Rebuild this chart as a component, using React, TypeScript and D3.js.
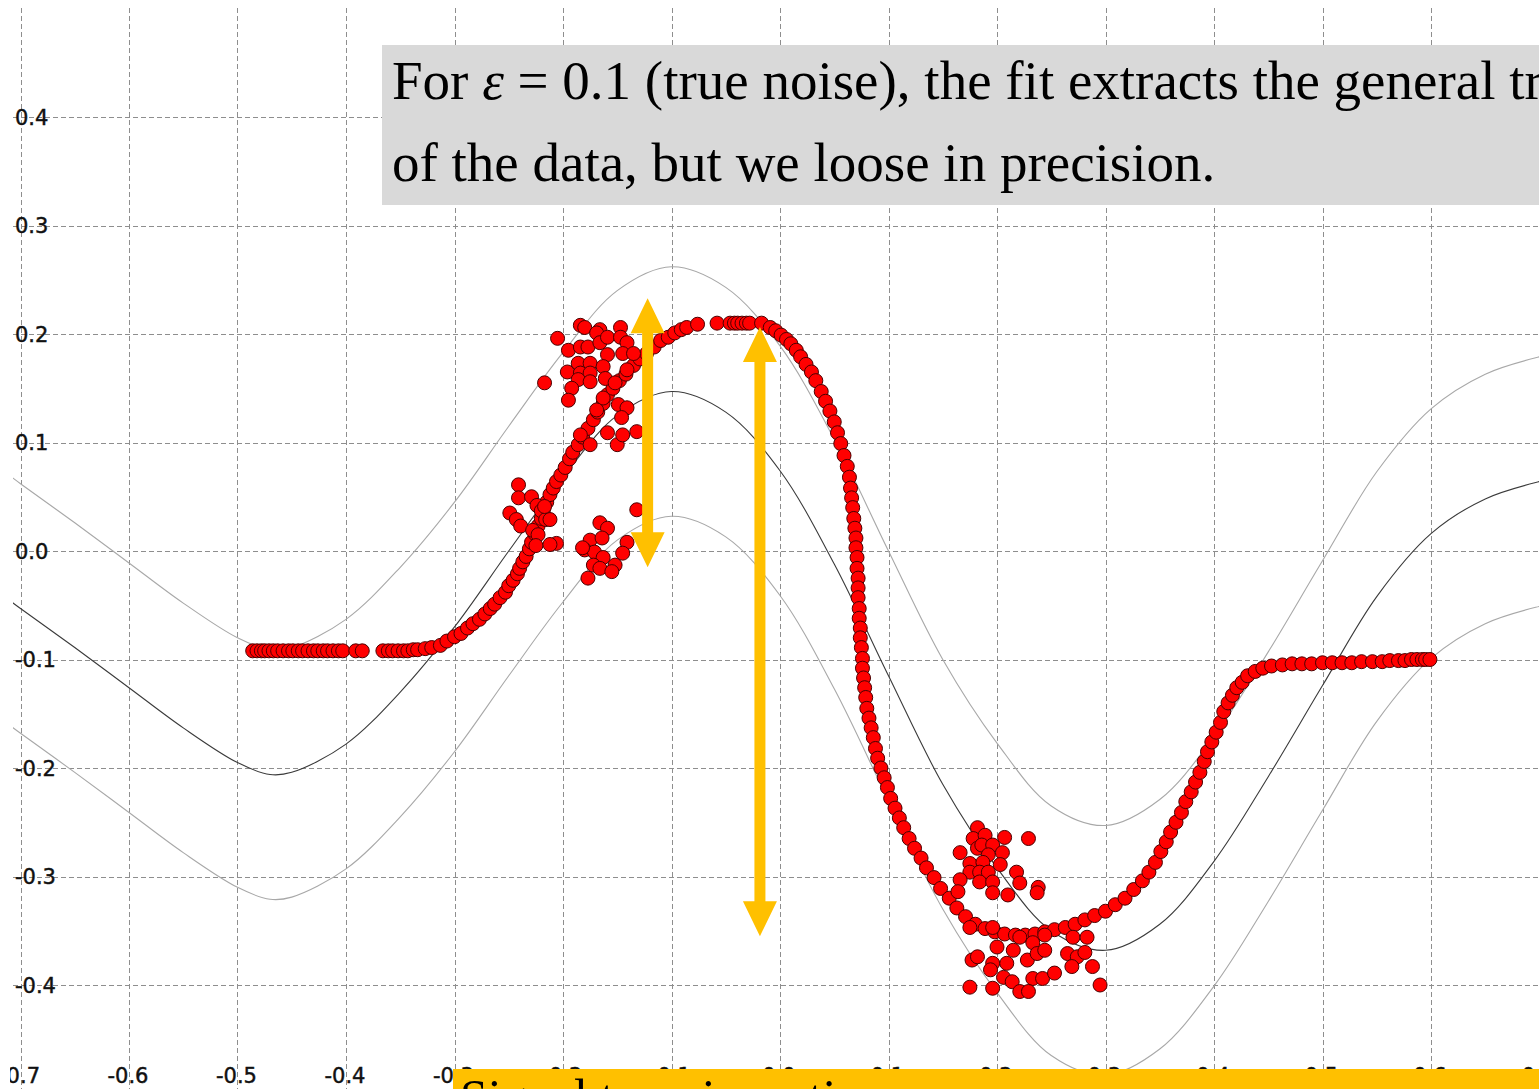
import React from "react";
import * as d3 from "d3";

const W = 1539;
const H = 1089;

// Axis ticks
const xTicks = [-0.7, -0.6, -0.5, -0.4, -0.3, -0.2, -0.1, 0.0, 0.1, 0.2, 0.3, 0.4, 0.5, 0.6, 0.7];
const yTicks = [0.4, 0.3, 0.2, 0.1, 0.0, -0.1, -0.2, -0.3, -0.4];

// Fitted curve (mean) and its +/- band, sampled along x
const fitX = [-0.72, -0.7, -0.65, -0.6, -0.55, -0.5, -0.47, -0.45, -0.4, -0.35, -0.3, -0.25, -0.2, -0.15, -0.1, -0.05, 0.0, 0.05, 0.1, 0.15, 0.2, 0.25, 0.3, 0.35, 0.4, 0.45, 0.5, 0.55, 0.6, 0.65, 0.7, 0.72];
const fitMean = [-0.038, -0.053, -0.089, -0.126, -0.163, -0.195, -0.206, -0.204, -0.178, -0.13, -0.07, 0.0, 0.068, 0.125, 0.147, 0.128, 0.074, -0.012, -0.115, -0.215, -0.292, -0.35, -0.368, -0.344, -0.286, -0.208, -0.124, -0.042, 0.016, 0.048, 0.064, 0.068];
const fitUpper = [0.077, 0.062, 0.026, -0.011, -0.048, -0.08, -0.091, -0.089, -0.063, -0.015, 0.045, 0.115, 0.183, 0.24, 0.262, 0.243, 0.189, 0.103, 0.0, -0.1, -0.177, -0.235, -0.253, -0.229, -0.171, -0.093, -0.009, 0.073, 0.131, 0.163, 0.179, 0.183];
const fitLower = [-0.153, -0.168, -0.204, -0.241, -0.278, -0.31, -0.321, -0.319, -0.293, -0.245, -0.185, -0.115, -0.047, 0.01, 0.032, 0.013, -0.041, -0.127, -0.23, -0.33, -0.407, -0.465, -0.483, -0.459, -0.401, -0.323, -0.239, -0.157, -0.099, -0.067, -0.051, -0.047];

// Measured signal: points lying on the underlying trend
const trendPoints: [number, number][] = [
  [-0.486, -0.092], [-0.482, -0.092], [-0.478, -0.092], [-0.475, -0.092], [-0.471, -0.092], [-0.467, -0.092],
  [-0.463, -0.092], [-0.458, -0.092], [-0.453, -0.092], [-0.449, -0.092], [-0.444, -0.092], [-0.44, -0.092],
  [-0.435, -0.092], [-0.43, -0.092], [-0.426, -0.092], [-0.421, -0.092], [-0.417, -0.092], [-0.412, -0.092],
  [-0.407, -0.092], [-0.403, -0.092], [-0.391, -0.092], [-0.385, -0.092], [-0.366, -0.092], [-0.361, -0.092],
  [-0.357, -0.092], [-0.352, -0.092], [-0.347, -0.092], [-0.343, -0.092], [-0.338, -0.091], [-0.334, -0.091],
  [-0.327, -0.09],
  [-0.321, -0.089], [-0.313, -0.087], [-0.307, -0.083], [-0.3, -0.079], [-0.294, -0.076], [-0.288, -0.071],
  [-0.283, -0.067], [-0.277, -0.063], [-0.272, -0.058], [-0.267, -0.053], [-0.263, -0.049], [-0.258, -0.043],
  [-0.253, -0.038], [-0.25, -0.032], [-0.246, -0.027], [-0.242, -0.021], [-0.24, -0.016], [-0.237, -0.01],
  [-0.234, -0.005], [-0.231, 0.002], [-0.229, 0.008], [-0.226, 0.016], [-0.223, 0.023], [-0.22, 0.03],
  [-0.218, 0.038], [-0.215, 0.045], [-0.212, 0.052], [-0.209, 0.058], [-0.206, 0.064], [-0.202, 0.07],
  [-0.198, 0.077], [-0.194, 0.085], [-0.191, 0.091], [-0.186, 0.098], [-0.182, 0.105], [-0.177, 0.113],
  [-0.172, 0.121], [-0.168, 0.128], [-0.163, 0.136], [-0.159, 0.144], [-0.154, 0.15], [-0.148, 0.157],
  [-0.142, 0.163], [-0.135, 0.171], [-0.129, 0.177], [-0.123, 0.182], [-0.116, 0.188], [-0.11, 0.194],
  [-0.103, 0.197], [-0.097, 0.201], [-0.091, 0.204], [-0.086, 0.206], [-0.076, 0.209], [-0.058, 0.21],
  [-0.046, 0.21], [-0.042, 0.21], [-0.039, 0.21], [-0.035, 0.21], [-0.031, 0.21], [-0.028, 0.21],
  [-0.017, 0.21],
  [-0.009, 0.206], [-0.004, 0.203], [0.001, 0.199], [0.006, 0.195], [0.01, 0.191], [0.015, 0.185],
  [0.019, 0.179], [0.024, 0.172], [0.029, 0.165], [0.033, 0.157], [0.038, 0.147], [0.042, 0.138],
  [0.046, 0.129], [0.05, 0.119], [0.053, 0.109], [0.056, 0.099], [0.059, 0.088], [0.062, 0.078],
  [0.064, 0.068], [0.065, 0.058], [0.066, 0.049], [0.067, 0.04], [0.068, 0.03], [0.069, 0.021],
  [0.07, 0.012], [0.07, 0.003], [0.071, -0.006], [0.071, -0.016], [0.072, -0.025], [0.072, -0.034],
  [0.072, -0.043], [0.073, -0.053], [0.073, -0.062], [0.074, -0.071], [0.074, -0.08], [0.075, -0.089],
  [0.076, -0.099], [0.076, -0.108], [0.077, -0.117], [0.078, -0.126], [0.079, -0.135], [0.08, -0.145],
  [0.082, -0.154], [0.084, -0.163], [0.086, -0.172], [0.088, -0.182], [0.09, -0.191], [0.093, -0.2],
  [0.096, -0.209], [0.099, -0.218], [0.102, -0.228], [0.106, -0.237], [0.11, -0.246], [0.114, -0.255],
  [0.119, -0.265], [0.124, -0.274], [0.13, -0.283], [0.135, -0.292], [0.142, -0.301], [0.148, -0.311],
  [0.156, -0.32], [0.163, -0.329], [0.171, -0.337], [0.18, -0.344], [0.189, -0.348], [0.198, -0.351],
  [0.207, -0.353], [0.217, -0.354], [0.226, -0.354], [0.235, -0.353], [0.244, -0.351], [0.253, -0.349],
  [0.263, -0.347], [0.272, -0.344], [0.281, -0.34], [0.29, -0.336], [0.3, -0.332], [0.309, -0.326],
  [0.318, -0.32], [0.326, -0.312], [0.334, -0.304], [0.34, -0.296], [0.346, -0.287], [0.351, -0.277],
  [0.356, -0.268], [0.36, -0.259], [0.365, -0.25], [0.37, -0.241], [0.374, -0.231], [0.379, -0.222],
  [0.383, -0.213], [0.387, -0.204], [0.391, -0.194], [0.394, -0.185], [0.398, -0.176], [0.402, -0.167],
  [0.406, -0.158], [0.409, -0.148], [0.413, -0.14], [0.417, -0.133], [0.421, -0.126], [0.426, -0.121],
  [0.431, -0.115], [0.438, -0.111], [0.445, -0.108], [0.453, -0.106], [0.463, -0.105], [0.472, -0.104],
  [0.481, -0.104], [0.49, -0.104], [0.5, -0.103], [0.509, -0.103], [0.518, -0.103], [0.527, -0.103],
  [0.536, -0.102], [0.546, -0.102], [0.555, -0.102], [0.562, -0.101], [0.57, -0.101], [0.576, -0.101],
  [0.582, -0.1], [0.587, -0.1], [0.592, -0.1], [0.595, -0.1], [0.599, -0.1],
];

// Measured signal: noisy bursts scattered away from the trend
const noisePoints: [number, number][] = [
  // around x = -0.17, upper burst
  [-0.205, 0.196], [-0.184, 0.208], [-0.18, 0.206], [-0.166, 0.204], [-0.147, 0.206], [-0.169, 0.201],
  [-0.195, 0.185], [-0.184, 0.188], [-0.177, 0.188], [-0.166, 0.192], [-0.159, 0.197], [-0.147, 0.197],
  [-0.141, 0.192], [-0.186, 0.173], [-0.175, 0.173], [-0.159, 0.181], [-0.145, 0.182], [-0.135, 0.182],
  [-0.196, 0.165], [-0.184, 0.164], [-0.175, 0.164], [-0.163, 0.17], [-0.141, 0.167], [-0.217, 0.155],
  [-0.186, 0.158], [-0.175, 0.156], [-0.161, 0.159], [-0.192, 0.15], [-0.152, 0.155], [-0.195, 0.139],
  [-0.163, 0.141], [-0.149, 0.135], [-0.141, 0.132], [-0.169, 0.13], [-0.159, 0.109], [-0.146, 0.123],
  [-0.15, 0.098], [-0.145, 0.107], [-0.132, 0.11], [-0.175, 0.098], [-0.184, 0.107],
  // around x = -0.17, lower burst
  [-0.166, 0.026], [-0.159, 0.021], [-0.132, 0.038], [-0.175, 0.01], [-0.164, 0.012], [-0.141, 0.008],
  [-0.206, 0.007], [-0.18, 0.001], [-0.171, -0.001], [-0.163, -0.006], [-0.145, -0.002], [-0.172, -0.013],
  [-0.166, -0.016], [-0.152, -0.013], [-0.155, -0.019], [-0.177, -0.025], [-0.182, 0.003],
  // around x = -0.23
  [-0.241, 0.061], [-0.241, 0.049], [-0.249, 0.035], [-0.243, 0.029], [-0.239, 0.023], [-0.229, 0.05],
  [-0.224, 0.042], [-0.22, 0.037], [-0.216, 0.029], [-0.212, 0.029], [-0.228, 0.019], [-0.223, 0.015],
  [-0.225, 0.005], [-0.212, 0.006], [-0.217, 0.041],
  // around x = 0.2, upper burst
  [0.182, -0.255], [0.207, -0.264], [0.229, -0.265], [0.178, -0.265], [0.189, -0.262], [0.166, -0.278],
  [0.182, -0.274], [0.186, -0.271], [0.196, -0.271], [0.205, -0.278], [0.192, -0.28], [0.175, -0.288],
  [0.187, -0.287], [0.203, -0.289], [0.175, -0.296], [0.184, -0.296], [0.192, -0.296], [0.218, -0.296],
  [0.166, -0.303], [0.184, -0.305], [0.196, -0.305], [0.221, -0.306], [0.238, -0.31], [0.164, -0.314],
  [0.196, -0.315], [0.21, -0.317], [0.237, -0.315],
  // around x = 0.23, lower burst
  [0.175, -0.347], [0.196, -0.347], [0.2, -0.365], [0.215, -0.368], [0.221, -0.356], [0.233, -0.361],
  [0.244, -0.354], [0.27, -0.356], [0.283, -0.356], [0.177, -0.377], [0.182, -0.374], [0.196, -0.38],
  [0.209, -0.38], [0.228, -0.377], [0.237, -0.371], [0.244, -0.368], [0.265, -0.371], [0.274, -0.374],
  [0.281, -0.37], [0.194, -0.386], [0.206, -0.393], [0.214, -0.397], [0.233, -0.394], [0.242, -0.394],
  [0.253, -0.389], [0.269, -0.383], [0.288, -0.383], [0.175, -0.402], [0.196, -0.403], [0.221, -0.406],
  [0.229, -0.406], [0.295, -0.4],
];

// Double-headed spread markers: x position, top and bottom values
const spreadArrows = [
  { x: -0.122, top: 0.233, bottom: -0.015 },
  { x: -0.0185, top: 0.2065, bottom: -0.355 },
];

const noteLine1 = ["For ", "ε", " = 0.1 (true noise), the fit extracts the general trend"];
const noteLine2 = "of the data, but we loose in precision.";
const footerText = "Signal to noise ratio";

const fmt = (v: number) => v.toFixed(1);

export default function App() {
  const x = d3.scaleLinear().domain([-0.7, 0.7]).range([20.5, 1539.5]);
  const y = d3.scaleLinear().domain([-0.4, 0.4]).range([985, 117]);

  const line = d3
    .line<number>()
    .x((_, i) => x(fitX[i]))
    .y((d) => y(d))
    .curve(d3.curveCatmullRom.alpha(0.5));

  const crisp = (v: number) => Math.round(v) + 0.5;

  const arrowPath = (a: { x: number; top: number; bottom: number }) => {
    const cx = x(a.x);
    const t = y(a.top);
    const b = y(a.bottom);
    const hl = 35;
    const hw = 17;
    const sw = 5.5;
    const pts: [number, number][] = [
      [cx, t], [cx + hw, t + hl], [cx + sw, t + hl], [cx + sw, b - hl], [cx + hw, b - hl],
      [cx, b], [cx - hw, b - hl], [cx - sw, b - hl], [cx - sw, t + hl], [cx - hw, t + hl],
    ];
    return "M" + pts.map((p) => p.join(",")).join("L") + "Z";
  };

  const gridColor = "#8e8e8e";
  const labelFont = "'DejaVu Sans', Verdana, sans-serif";
  const serif = "'Liberation Serif', 'Times New Roman', serif";

  return (
    <svg
      width={W}
      height={H}
      viewBox={`0 0 ${W} ${H}`}
      style={{ position: "absolute", left: 0, top: 0, display: "block", background: "#fff" }}
    >
      <defs>
        <clipPath id="plotClip">
          <rect x={13} y={0} width={W - 13} height={H} />
        </clipPath>
        <clipPath id="labelClip">
          <rect x={10} y={0} width={W - 10} height={H} />
        </clipPath>
      </defs>

      {/* grid */}
      <g stroke={gridColor} strokeWidth={1} strokeDasharray="5,3" fill="none">
        {xTicks.map((t) => (
          <line key={"vx" + t} x1={crisp(x(t))} x2={crisp(x(t))} y1={8} y2={H} />
        ))}
        {yTicks.map((t) => (
          <line key={"hy" + t} x1={13} x2={W} y1={crisp(y(t))} y2={crisp(y(t))} />
        ))}
      </g>

      {/* tick labels */}
      <g
        clipPath="url(#labelClip)"
        fontFamily={labelFont}
        fontSize={21}
        fill="#111"
        stroke="#111"
        strokeWidth={0.45}
      >
        {yTicks.map((t) => (
          <text key={"ly" + t} x={15} y={y(t)} dy="0.36em">
            {fmt(t)}
          </text>
        ))}
        {xTicks.map((t) => (
          <text key={"lx" + t} x={x(t) - 1} y={1083} textAnchor="middle">
            {fmt(t)}
          </text>
        ))}
      </g>

      {/* fitted curve with band */}
      <g clipPath="url(#plotClip)" fill="none">
        <path d={line(fitUpper) || ""} stroke="#a8a8a8" strokeWidth={1.1} />
        <path d={line(fitLower) || ""} stroke="#a8a8a8" strokeWidth={1.1} />
        <path d={line(fitMean) || ""} stroke="#3a3a3a" strokeWidth={1.1} />
      </g>

      {/* data points */}
      <g fill="#ff0000" stroke="#4a0000" strokeWidth={1}>
        {trendPoints.map((p, i) => (
          <circle key={"t" + i} cx={x(p[0])} cy={y(p[1])} r={7} />
        ))}
        {noisePoints.map((p, i) => (
          <circle key={"n" + i} cx={x(p[0])} cy={y(p[1])} r={7} />
        ))}
      </g>

      {/* spread arrows */}
      <g fill="#ffc000">
        {spreadArrows.map((a, i) => (
          <path key={"a" + i} d={arrowPath(a)} />
        ))}
      </g>

      {/* note box */}
      <rect x={382} y={45} width={W - 382} height={160} fill="#d9d9d9" />
      <text x={392} y={99} fontFamily={serif} fontSize={55} fill="#000">
        {noteLine1[0]}
        <tspan fontStyle="italic">{noteLine1[1]}</tspan>
        {noteLine1[2]}
      </text>
      <text x={392} y={181} fontFamily={serif} fontSize={55} fill="#000">
        {noteLine2}
      </text>

      {/* footer banner */}
      <rect x={453} y={1069} width={W - 453} height={H - 1069} fill="#ffc000" />
      <text x={460} y={1114} fontFamily={serif} fontSize={50} fill="#000">
        {footerText}
      </text>
    </svg>
  );
}
